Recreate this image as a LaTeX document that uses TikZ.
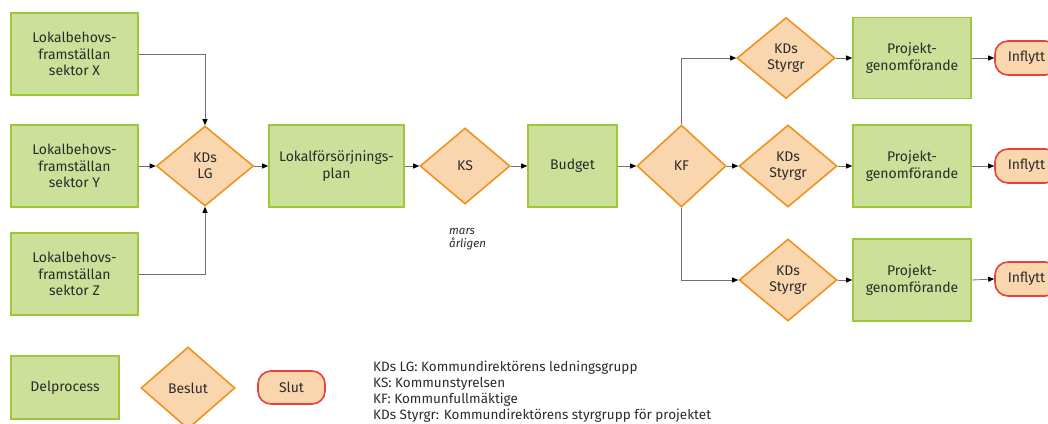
\documentclass[tikz,border=0pt]{standalone}
\usepackage{fontspec}
\setmainfont{Fira Sans}
\usetikzlibrary{shapes.geometric,arrows.meta}
\definecolor{gfill}{HTML}{CCE09A}
\definecolor{gline}{HTML}{9CC83A}
\definecolor{ofill}{HTML}{F9D6AE}
\definecolor{oline}{HTML}{F0921E}
\definecolor{rline}{HTML}{E8403A}
\definecolor{connc}{HTML}{707070}
\definecolor{txt}{HTML}{2B2B2B}
\begin{document}
\begin{tikzpicture}[x=1pt,y=-1pt,
  base/.style={inner sep=0pt, align=center, text=txt, line width=1.6pt, font=\fontsize{14}{16.5}\selectfont},
  proc/.style={base, rectangle, draw=gline, fill=gfill},
  dec/.style={base, diamond, draw=oline, fill=ofill},
  term/.style={base, rectangle, rounded corners=13pt, draw=rline, fill=ofill},
  conn/.style={draw=connc, line width=0.8pt, -{Triangle[length=6pt,width=5pt,color=black]}}
]
\useasboundingbox (0,0) rectangle (1048,423);
\clip (0,0) rectangle (1048,423);
\fill[white] (0,0) rectangle (1048,423);

% left column
\node[proc, minimum width=127pt, minimum height=82pt] (bx) at (74.5,54) {Lokalbehovs-\\framställan\\sektor X};
\node[proc, minimum width=127pt, minimum height=82pt] (by) at (74.5,166) {Lokalbehovs-\\framställan\\sektor Y};
\node[proc, minimum width=127pt, minimum height=82pt] (bz) at (74.5,274) {Lokalbehovs-\\framställan\\sektor Z};

\node[dec, minimum width=97pt, minimum height=80pt] (lg) at (205,166) {KDs\\LG};
\node[proc, minimum width=135pt, minimum height=82pt] (lfp) at (336.5,166) {Lokalförsörjnings-\\plan};
\node[dec, minimum width=90pt, minimum height=76pt] (ks) at (465,166) {KS};
\node[font=\fontsize{11.5}{13}\selectfont\itshape, text=txt, align=left, anchor=north west, inner sep=0pt] (mars) at (449,228) {mars\\årligen};
\node[proc, minimum width=89pt, minimum height=82pt] (bud) at (572.5,166) {Budget};
\node[dec, minimum width=89pt, minimum height=82pt] (kf) at (681.5,166) {KF};

% branches
\node[dec, minimum width=98pt, minimum height=81pt] (s1) at (786,58) {KDs\\Styrgr};
\node[dec, minimum width=98pt, minimum height=82pt] (s2) at (788,166) {KDs\\Styrgr};
\node[dec, minimum width=98pt, minimum height=82pt] (s3) at (788,280) {KDs\\Styrgr};

\node[proc, minimum width=118pt, minimum height=81pt] (p1) at (912,58) {Projekt-\\genomförande};
\node[proc, minimum width=118pt, minimum height=82pt] (p2) at (912,166) {Projekt-\\genomförande};
\node[proc, minimum width=118pt, minimum height=82pt] (p3) at (912,280) {Projekt-\\genomförande};

\node[term, minimum width=63pt, minimum height=34pt] (i1) at (1026.5,58) {Inflytt};
\node[term, minimum width=63pt, minimum height=34pt] (i2) at (1026.5,166) {Inflytt};
\node[term, minimum width=63pt, minimum height=34pt] (i3) at (1026.5,279) {Inflytt};

% connectors
\draw[conn] (bx.east) -| (lg.north);
\draw[conn] (by.east) -- (lg.west);
\draw[conn] (bz.east) -| (lg.south);
\draw[conn] (lg.east) -- (lfp.west);
\draw[conn] (lfp.east) -- (ks.west);
\draw[conn] (ks.east) -- (bud.west);
\draw[conn] (bud.east) -- (kf.west);
\draw[conn] (kf.north) |- (s1.west);
\draw[conn] (kf.east) -- (s2.west);
\draw[conn] (kf.south) |- (s3.west);
\draw[conn] (s1.east) -- (p1.west);
\draw[conn] (s2.east) -- (p2.west);
\draw[conn] (s3.east) -- (p3.west);
\draw[conn] (p1.east) -- (i1.west);
\draw[conn] (p2.east) -- (i2.west);
\draw[conn] (p3.east) -- (i3.west);

% legend
\node[proc, minimum width=108pt, minimum height=63pt] (lp) at (65,387.5) {Delprocess};
\node[dec, minimum width=94pt, minimum height=82pt] (ld) at (188,388) {Beslut};
\node[term, minimum width=67pt, minimum height=33pt] (lt) at (291.5,387.5) {Slut};
\node[anchor=north west, inner sep=0pt, align=left, text=txt, font=\fontsize{13.5}{16}\selectfont] (leg) at (373,361)
 {KDs LG: Kommundirektörens ledningsgrupp\\KS: Kommunstyrelsen\\KF: Kommunfullmäktige\\KDs Styrgr: Kommundirektörens styrgrupp för projektet};
\end{tikzpicture}
\end{document}
